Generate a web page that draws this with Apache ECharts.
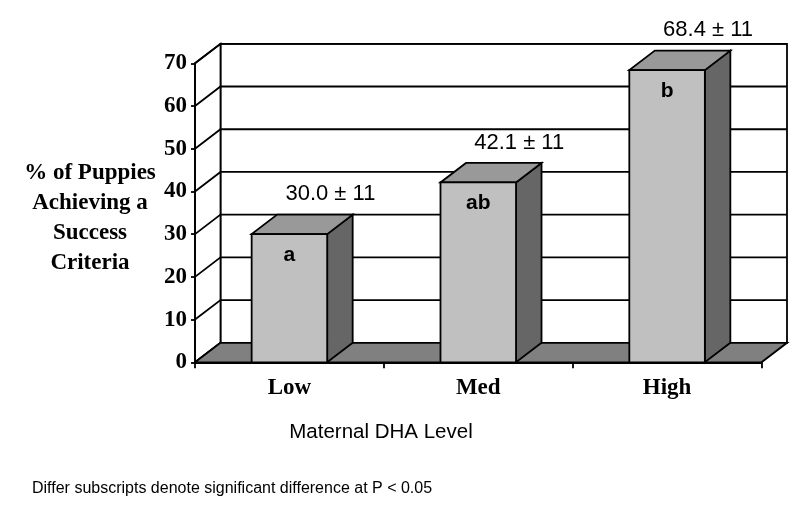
<!DOCTYPE html>
<html>
<head>
<meta charset="utf-8">
<script src="https://cdn.jsdelivr.net/npm/echarts@6/dist/echarts.min.js"></script>
<style>
html,body{margin:0;padding:0;background:#fff;}
#c{width:800px;height:516px;}
</style>
</head>
<body>
<div id="c"></div>
<script>
// ---- data ----
const categories = ['Low', 'Med', 'High'];
const values = [30.0, 42.1, 68.4];
const sems = [11, 11, 11];
const letters = ['a', 'ab', 'b'];
const yTicks = [0, 10, 20, 30, 40, 50, 60, 70];

// ---- layout constants (3D offset) ----
const DX = 25.5, DY = -19.5;
const BAR_RATIO = 0.4;
const yMin = yTicks[0], yMax = yTicks[yTicks.length - 1];
const lineStyle = { stroke: '#000', lineWidth: 1.8 };

function renderFrame(params, api) {
  const cs = params.coordSys;
  const x0 = cs.x, x1 = cs.x + cs.width;
  const yf0 = api.coord([0, yMin])[1];
  const yfT = api.coord([0, yMax])[1];
  const children = [];
  children.push({ type: 'polygon', shape: { points: [[x0 + DX, yf0 + DY], [x0 + DX, yfT + DY], [x1 + DX, yfT + DY], [x1 + DX, yf0 + DY]] },
    style: Object.assign({ fill: '#fff' }, lineStyle) });
  children.push({ type: 'polygon', shape: { points: [[x0, yf0], [x0, yfT], [x0 + DX, yfT + DY], [x0 + DX, yf0 + DY]] },
    style: Object.assign({ fill: '#fff' }, lineStyle) });
  yTicks.forEach(function (t) {
    const y = api.coord([0, t])[1];
    children.push({ type: 'polyline', shape: { points: [[x0, y], [x0 + DX, y + DY], [x1 + DX, y + DY]] },
      style: Object.assign({ fill: null }, lineStyle) });
  });
  children.push({ type: 'polygon', shape: { points: [[x0, yf0], [x1, yf0], [x1 + DX, yf0 + DY], [x0 + DX, yf0 + DY]] },
    style: Object.assign({ fill: '#808080' }, lineStyle) });
  return { type: 'group', children: children };
}

function renderBar(params, api) {
  const idx = api.value(0);
  const v = api.value(1);
  const top = api.coord([idx, v]);
  const base = api.coord([idx, yMin]);
  const bw = api.size([1, 0])[0] * BAR_RATIO;
  const cx = top[0];
  const xa = cx - bw / 2, xb = cx + bw / 2;
  const yt = top[1], y0 = base[1];
  const i = params.dataIndex;
  return { type: 'group', children: [
    { type: 'polygon', shape: { points: [[xb, yt], [xb + DX, yt + DY], [xb + DX, y0 + DY], [xb, y0]] },
      style: Object.assign({ fill: '#666666' }, lineStyle) },
    { type: 'polygon', shape: { points: [[xa, yt], [xb, yt], [xb + DX, yt + DY], [xa + DX, yt + DY]] },
      style: Object.assign({ fill: '#999999' }, lineStyle) },
    { type: 'rect', shape: { x: xa, y: yt, width: bw, height: y0 - yt },
      style: Object.assign({ fill: '#c0c0c0' }, lineStyle) },
    { type: 'text', style: { text: letters[i], x: cx, y: yt + 21, align: 'center', verticalAlign: 'middle',
      fontFamily: 'Liberation Sans, Arial', fontWeight: 'bold', fontSize: 21, fill: '#000' } },
    { type: 'text', style: { text: values[i].toFixed(1) + ' \u00b1 ' + sems[i], x: cx - 4, y: yt - 40,
      align: 'left', verticalAlign: 'middle', fontFamily: 'Liberation Sans, Arial', fontSize: 22, fill: '#000' } }
  ] };
}

const chart = echarts.init(document.getElementById('c'), null, { renderer: 'canvas' });
chart.setOption({
  animation: false,
  backgroundColor: '#fff',
  grid: { left: 195, right: 38.5, top: 63.3, bottom: 153.7, containLabel: false },
  xAxis: {
    type: 'category', data: categories, boundaryGap: true, z: 10,
    axisLine: { lineStyle: { color: '#000', width: 1.8 } },
    axisTick: { show: true, length: 6, lineStyle: { color: '#000', width: 1.8 } },
    axisLabel: { margin: 14, color: '#000', fontFamily: 'Liberation Serif, Times New Roman', fontWeight: 'bold', fontSize: 23 },
    splitLine: { show: false }
  },
  yAxis: {
    type: 'value', min: yMin, max: yMax, interval: 10, z: 10,
    axisLine: { show: true, lineStyle: { color: '#000', width: 1.8 } },
    axisTick: { show: true, length: 4, lineStyle: { color: '#000', width: 1.8 } },
    axisLabel: { margin: 8, color: '#000', fontFamily: 'Liberation Serif, Times New Roman', fontWeight: 'bold', fontSize: 23,
      padding: [3, 0, 0, 0] },
    splitLine: { show: false }
  },
  graphic: [
    { type: 'text', x: 90, y: 218, style: { text: '% of Puppies\nAchieving a\nSuccess\nCriteria',
      align: 'center', verticalAlign: 'middle', lineHeight: 30, fontFamily: 'Liberation Serif, Times New Roman',
      fontWeight: 'bold', fontSize: 23, fill: '#000' } },
    { type: 'text', x: 381, y: 432, style: { text: 'Maternal DHA Level', align: 'center', verticalAlign: 'middle',
      fontFamily: 'Liberation Sans, Arial', fontSize: 20.5, fill: '#000' } },
    { type: 'text', x: 32, y: 489, style: { text: 'Differ subscripts denote significant difference at P < 0.05',
      align: 'left', verticalAlign: 'middle', fontFamily: 'Liberation Sans, Arial', fontSize: 16, fill: '#000' } }
  ],
  series: [
    { type: 'custom', name: 'frame', z: 1, silent: true, renderItem: renderFrame, data: [[0, 0]] },
    { type: 'custom', name: 'bars', z: 3, renderItem: renderBar,
      data: values.map(function (v, i) { return [i, v]; }) }
  ]
});
</script>
</body>
</html>
